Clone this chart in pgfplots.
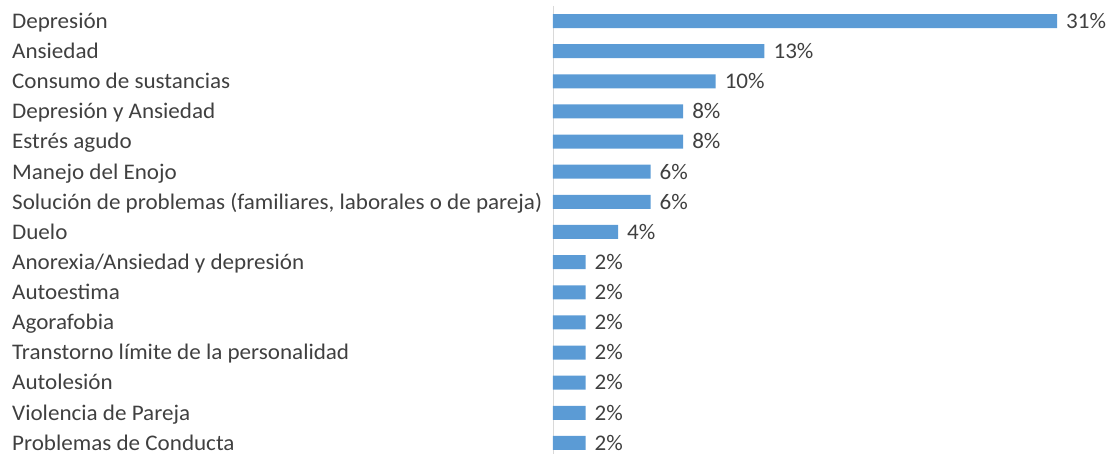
\documentclass[border=0pt]{standalone}
\usepackage{pgfplots}
\pgfplotsset{compat=1.18}
\usepackage{fontspec}
\setmainfont{Carlito}[FakeStretch=1.035]
\definecolor{barblue}{HTML}{5B9BD5}
\definecolor{txt}{HTML}{404040}
\definecolor{axgray}{HTML}{D9D9D9}
\begin{document}
\begin{tikzpicture}
\begin{axis}[
  name=a, at={(0,0)}, anchor=north west,
  scale only axis, width=552.8pt, height=452.1pt,
  xbar, bar width=14pt,
  xmin=0, xmax=34, ymin=-0.5, ymax=14.5, y dir=reverse,
  axis x line=none, axis y line*=left,
  y axis line style={draw=axgray, line width=0.9pt, -},
  ytick={0,...,14}, major tick length=0pt,
  /pgf/number format/assume math mode=true,
  yticklabels={{Depresión},{Ansiedad},{Consumo de sustancias},{Depresión y Ansiedad},{Estrés agudo},{Manejo del Enojo},{Solución de problemas (familiares, laborales o de pareja)},{Duelo},{Anorexia/Ansiedad y depresión},{Autoestima},{Agorafobia},{Transtorno límite de la personalidad},{Autolesión},{Violencia de Pareja},{Problemas de Conducta}},
  yticklabel style={anchor=base west, inner sep=0pt, xshift=-541pt, yshift=-7.3pt, font=\fontsize{22.3}{26}\selectfont, text=txt},
  nodes near coords={\pgfmathprintnumber{\pgfplotspointmeta}\%},
  nodes near coords style={anchor=base west, inner sep=0pt, xshift=9pt, yshift=-7.3pt, font=\fontsize{22.3}{26}\selectfont, text=txt},
  clip=false,
]
\addplot[fill=barblue, draw=none] coordinates {
(31,0) (13,1) (10,2) (8,3) (8,4) (6,5) (6,6) (4,7) (2,8) (2,9) (2,10) (2,11) (2,12) (2,13) (2,14)
};
\end{axis}
\pgfresetboundingbox
\path (-553pt,5.93pt) rectangle (557pt,-448.07pt);
\end{tikzpicture}
\end{document}
